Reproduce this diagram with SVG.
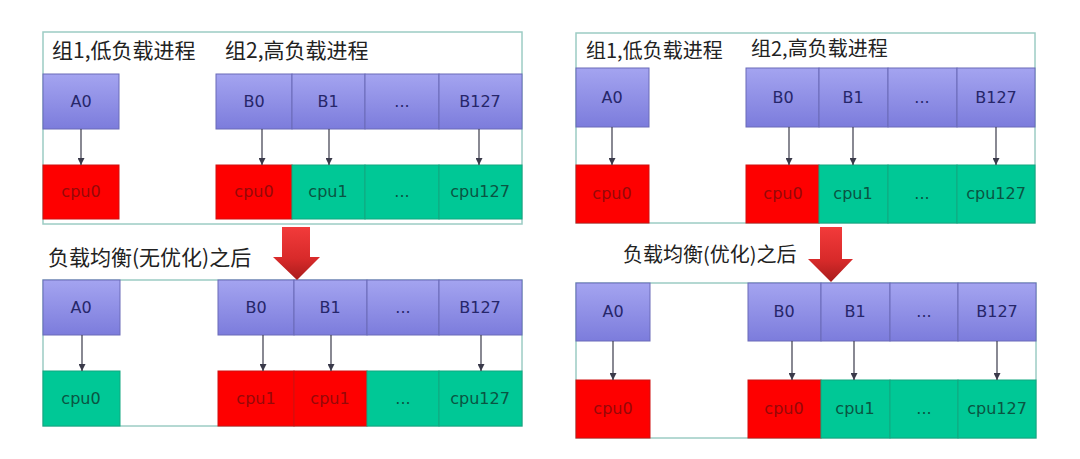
<svg xmlns="http://www.w3.org/2000/svg" width="1080" height="459" viewBox="0 0 1080 459">
<defs>
<linearGradient id="gp" x1="0" y1="0" x2="0" y2="1"><stop offset="0" stop-color="#a4a4f0"/><stop offset="1" stop-color="#7c7cdc"/></linearGradient>
<linearGradient id="gr" x1="0" y1="0" x2="0" y2="1"><stop offset="0" stop-color="#f23a3a"/><stop offset="0.6" stop-color="#d82a2a"/><stop offset="1" stop-color="#a81c1c"/></linearGradient>
<marker id="ah" viewBox="0 0 10 10" refX="10" refY="5" markerWidth="7" markerHeight="7" markerUnits="userSpaceOnUse" orient="auto"><path d="M0,0 L10,5 L0,10 z" fill="#3a3a4a"/></marker>
<style>
.frame{fill:none;stroke:#9cccc4;stroke-width:1.5}
.p{fill:url(#gp);stroke:#6a6ab8;stroke-width:1}
.r{fill:#fe0000;stroke:#d01010;stroke-width:1}
.g{fill:#00c896;stroke:#10a880;stroke-width:1}
.lp{font-family:"DejaVu Sans",sans-serif;font-size:16px;fill:#26266a;text-anchor:middle}
.lr{font-family:"DejaVu Sans",sans-serif;font-size:16px;fill:#960808;text-anchor:middle}
.lg{font-family:"DejaVu Sans",sans-serif;font-size:16px;fill:#0a5442;text-anchor:middle}
.t{font-family:"Noto Sans CJK SC","Noto Sans",sans-serif;font-size:21px;fill:#222}
.tr{font-family:"Noto Sans CJK SC","Noto Sans",sans-serif;font-size:20px;fill:#222}
.c{stroke:#3a3a4a;stroke-width:1.2;fill:none;marker-end:url(#ah)}
.big{fill:url(#gr)}
</style>
</defs>
<rect width="1080" height="459" fill="#fff"/>

<!-- Top-left panel -->
<g id="panel-tl">
<rect class="frame" x="43" y="32" width="479" height="192"/>
<text class="t" x="52" y="58">组1,低负载进程</text>
<text class="t" x="225" y="58">组2,高负载进程</text>
</g>
<g id="tl-A0"><rect class="p" x="43" y="74" width="76" height="55"/><text class="lp" x="81" y="107">A0</text></g>
<g id="tl-B0"><rect class="p" x="216" y="74" width="76" height="55"/><text class="lp" x="254" y="107">B0</text></g>
<g id="tl-B1"><rect class="p" x="292" y="74" width="73" height="55"/><text class="lp" x="328" y="107">B1</text></g>
<g id="tl-Bd"><rect class="p" x="365" y="74" width="74" height="55"/><text class="lp" x="402" y="107">...</text></g>
<g id="tl-B127"><rect class="p" x="439" y="74" width="83" height="55"/><text class="lp" x="480" y="107">B127</text></g>
<g id="tl-cA0"><rect class="r" x="43" y="165" width="76" height="54"/><text class="lr" x="81" y="197">cpu0</text></g>
<g id="tl-c0"><rect class="r" x="216" y="165" width="76" height="54"/><text class="lr" x="254" y="197">cpu0</text></g>
<g id="tl-c1"><rect class="g" x="292" y="165" width="73" height="54"/><text class="lg" x="328" y="197">cpu1</text></g>
<g id="tl-cd"><rect class="g" x="365" y="165" width="74" height="54"/><text class="lg" x="402" y="197">...</text></g>
<g id="tl-c127"><rect class="g" x="439" y="165" width="83" height="54"/><text class="lg" x="480" y="197">cpu127</text></g>

<!-- Bottom-left panel -->
<g id="panel-bl">
<rect class="frame" x="43" y="280" width="479" height="146"/>
<text class="t" x="48" y="265">负载均衡(无优化)之后</text>
</g>
<g id="bl-A0"><rect class="p" x="43" y="280" width="77" height="55"/><text class="lp" x="81" y="313">A0</text></g>
<g id="bl-B0"><rect class="p" x="218" y="280" width="76" height="55"/><text class="lp" x="256" y="313">B0</text></g>
<g id="bl-B1"><rect class="p" x="294" y="280" width="73" height="55"/><text class="lp" x="330" y="313">B1</text></g>
<g id="bl-Bd"><rect class="p" x="367" y="280" width="72" height="55"/><text class="lp" x="403" y="313">...</text></g>
<g id="bl-B127"><rect class="p" x="439" y="280" width="83" height="55"/><text class="lp" x="480" y="313">B127</text></g>
<g id="bl-cA0"><rect class="g" x="43" y="371" width="77" height="55"/><text class="lg" x="81" y="404">cpu0</text></g>
<g id="bl-c0"><rect class="r" x="218" y="371" width="76" height="55"/><text class="lr" x="256" y="404">cpu1</text></g>
<g id="bl-c1"><rect class="r" x="294" y="371" width="73" height="55"/><text class="lr" x="330" y="404">cpu1</text></g>
<g id="bl-cd"><rect class="g" x="367" y="371" width="72" height="55"/><text class="lg" x="403" y="404">...</text></g>
<g id="bl-c127"><rect class="g" x="439" y="371" width="83" height="55"/><text class="lg" x="480" y="404">cpu127</text></g>

<!-- Top-right panel -->
<g id="panel-tr">
<rect class="frame" x="576" y="33" width="459" height="190"/>
<text class="tr" x="586" y="58">组1,低负载进程</text>
<text class="tr" x="751" y="56">组2,高负载进程</text>
</g>
<g id="tr-A0"><rect class="p" x="576" y="68" width="73" height="59"/><text class="lp" x="612" y="103">A0</text></g>
<g id="tr-B0"><rect class="p" x="746" y="68" width="73" height="59"/><text class="lp" x="783" y="103">B0</text></g>
<g id="tr-B1"><rect class="p" x="819" y="68" width="69" height="59"/><text class="lp" x="853" y="103">B1</text></g>
<g id="tr-Bd"><rect class="p" x="888" y="68" width="69" height="59"/><text class="lp" x="922" y="103">...</text></g>
<g id="tr-B127"><rect class="p" x="957" y="68" width="78" height="59"/><text class="lp" x="996" y="103">B127</text></g>
<g id="tr-cA0"><rect class="r" x="576" y="165" width="73" height="58"/><text class="lr" x="612" y="199">cpu0</text></g>
<g id="tr-c0"><rect class="r" x="746" y="165" width="73" height="58"/><text class="lr" x="783" y="199">cpu0</text></g>
<g id="tr-c1"><rect class="g" x="819" y="165" width="69" height="58"/><text class="lg" x="853" y="199">cpu1</text></g>
<g id="tr-cd"><rect class="g" x="888" y="165" width="69" height="58"/><text class="lg" x="922" y="199">...</text></g>
<g id="tr-c127"><rect class="g" x="957" y="165" width="78" height="58"/><text class="lg" x="996" y="199">cpu127</text></g>

<!-- Bottom-right panel -->
<g id="panel-br">
<rect class="frame" x="576" y="283" width="460" height="155"/>
<text class="tr" x="623" y="262">负载均衡(优化)之后</text>
</g>
<g id="br-A0"><rect class="p" x="576" y="283" width="74" height="58"/><text class="lp" x="613" y="317">A0</text></g>
<g id="br-B0"><rect class="p" x="748" y="283" width="73" height="58"/><text class="lp" x="784" y="317">B0</text></g>
<g id="br-B1"><rect class="p" x="821" y="283" width="69" height="58"/><text class="lp" x="855" y="317">B1</text></g>
<g id="br-Bd"><rect class="p" x="890" y="283" width="68" height="58"/><text class="lp" x="924" y="317">...</text></g>
<g id="br-B127"><rect class="p" x="958" y="283" width="78" height="58"/><text class="lp" x="997" y="317">B127</text></g>
<g id="br-cA0"><rect class="r" x="576" y="380" width="74" height="58"/><text class="lr" x="613" y="414">cpu0</text></g>
<g id="br-c0"><rect class="r" x="748" y="380" width="73" height="58"/><text class="lr" x="784" y="414">cpu0</text></g>
<g id="br-c1"><rect class="g" x="821" y="380" width="69" height="58"/><text class="lg" x="855" y="414">cpu1</text></g>
<g id="br-cd"><rect class="g" x="890" y="380" width="68" height="58"/><text class="lg" x="924" y="414">...</text></g>
<g id="br-c127"><rect class="g" x="958" y="380" width="78" height="58"/><text class="lg" x="997" y="414">cpu127</text></g>

<!-- Big transition arrows -->
<g id="big-arrow-left"><path class="big" d="M282,227 H310 V257 H320 L297,280 L273,257 H282 Z"/></g>
<g id="big-arrow-right"><path class="big" d="M820,227 H842 V259 H853 L831,282 L808,259 H820 Z"/></g>

<!-- Connectors -->
<g id="connectors">
<line class="c" x1="81" y1="129" x2="81" y2="165"/>
<line class="c" x1="262" y1="129" x2="262" y2="165"/>
<line class="c" x1="329" y1="129" x2="329" y2="165"/>
<line class="c" x1="479" y1="129" x2="479" y2="165"/>
<line class="c" x1="82" y1="335" x2="82" y2="371"/>
<line class="c" x1="263" y1="335" x2="263" y2="371"/>
<line class="c" x1="331" y1="335" x2="331" y2="371"/>
<line class="c" x1="481" y1="335" x2="481" y2="371"/>
<line class="c" x1="612" y1="127" x2="612" y2="165"/>
<line class="c" x1="789" y1="127" x2="789" y2="165"/>
<line class="c" x1="853" y1="127" x2="853" y2="165"/>
<line class="c" x1="996" y1="127" x2="996" y2="165"/>
<line class="c" x1="613" y1="341" x2="613" y2="380"/>
<line class="c" x1="792" y1="341" x2="792" y2="380"/>
<line class="c" x1="854" y1="341" x2="854" y2="380"/>
<line class="c" x1="997" y1="341" x2="997" y2="380"/>
</g>
</svg>
